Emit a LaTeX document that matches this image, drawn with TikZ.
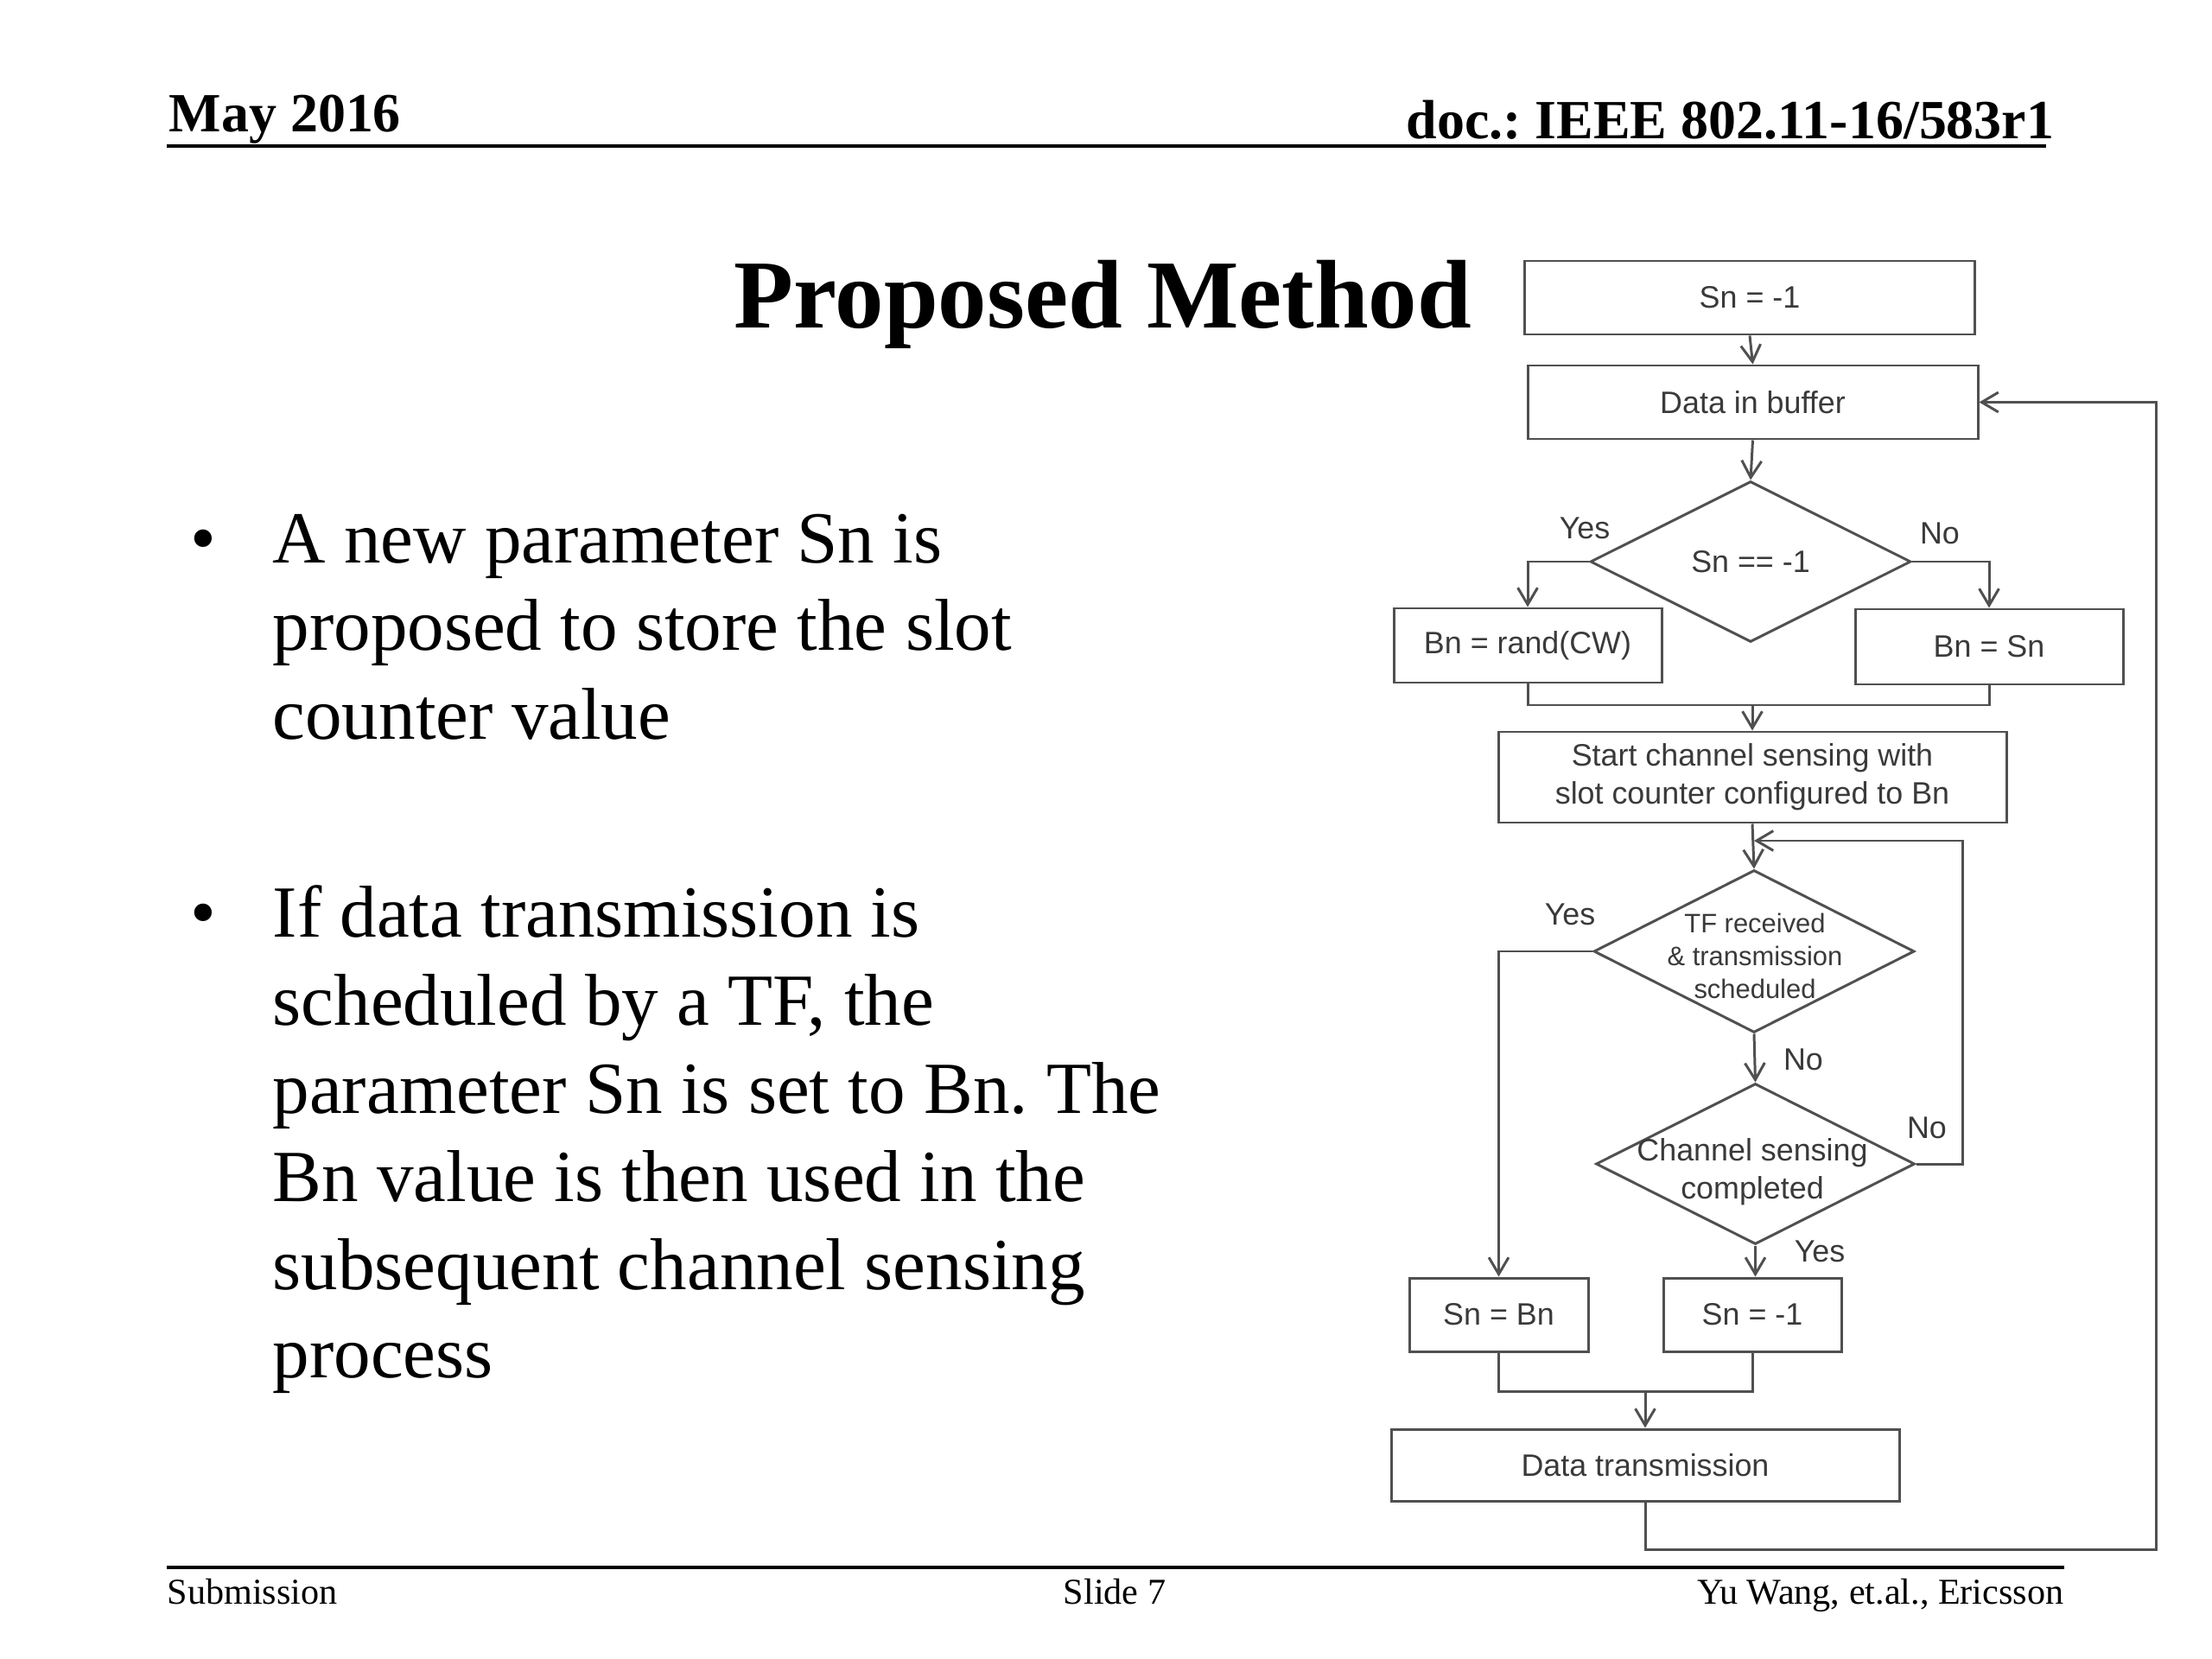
\documentclass[tikz,border=0pt]{standalone}
\usepackage{fontspec}
\setmainfont{Liberation Serif}
\newfontfamily\fcfont{Liberation Sans}
\usetikzlibrary{shapes.geometric,arrows.meta}
\definecolor{fcline}{HTML}{505050}
\definecolor{fctext}{HTML}{3A3A3A}
\frenchspacing
\begin{document}
\begin{tikzpicture}[
  hdr/.style={font=\fontsize{18.2}{22}\selectfont\bfseries, inner sep=0},
  body/.style={font=\fontsize{24.2}{29}\selectfont, inner sep=0, anchor=base west},
  foot/.style={font=\fontsize{12}{14}\selectfont, inner sep=0},
  fbox/.style={draw=fcline, line width=0.85pt, rectangle, inner sep=0, font=\fcfont\fontsize{10.2}{12.5}\selectfont, text=fctext, align=center},
  fdia/.style={draw=fcline, line width=0.85pt, diamond, inner sep=0},
  ftxt/.style={inner sep=0, font=\fcfont\fontsize{10.2}{12.5}\selectfont, text=fctext, align=center},
  conn/.style={draw=fcline, line width=0.85pt},
  arr/.style={conn, -{Straight Barb[length=5.5pt,width=6.5pt]}},
]
\fill[white] (0,0) rectangle (25.6,-19.2);
\useasboundingbox (0,0) rectangle (25.6,-19.2);

% header
\node[hdr, anchor=base west] (date) at (1.95,-1.53) {May 2016};
\node[hdr, anchor=base east] (doc) at (23.78,-1.61) {doc.: IEEE 802.11-16/583r1};
\coordinate (hl) at (1.93,-1.69);
\coordinate (hr) at (23.68,-1.69);
\draw[line width=1pt] (hl) -- (hr);

% title
\node[inner sep=0, anchor=base west, font=\fontsize{32.1}{38}\selectfont\bfseries] (title) at (8.49,-3.80) {Proposed Method};

% bullets
\node[body] (bul1) at (2.20,-6.51) {•};
\node[body] (l1) at (3.15,-6.51) {A new parameter Sn is};
\node[body] (l2) at (3.15,-7.53) {proposed to store the slot};
\node[body] (l3) at (3.15,-8.55) {counter value};
\node[body] (bul2) at (2.20,-10.84) {•};
\node[body] (m1) at (3.15,-10.84) {If data transmission is};
\node[body] (m2) at (3.15,-11.86) {scheduled by a TF, the};
\node[body] (m3) at (3.15,-12.88) {parameter Sn is set to Bn. The};
\node[body] (m4) at (3.15,-13.90) {Bn value is then used in the};
\node[body] (m5) at (3.15,-14.92) {subsequent channel sensing};
\node[body] (m6) at (3.15,-15.94) {process};

% footer
\coordinate (fl) at (1.93,-18.14);
\coordinate (fr) at (23.89,-18.14);
\draw[line width=1pt] (fl) -- (fr);
\node[foot, anchor=base west] (sub) at (1.93,-18.56) {Submission};
\node[foot, anchor=base] (slide) at (12.90,-18.56) {Slide 7};
\node[foot, anchor=base east] (auth) at (23.89,-18.56) {Yu Wang, et.al., Ericsson};

% flowchart
\node[fbox, minimum width=5.21cm, minimum height=0.85cm] (b1) at (20.25,-3.445) {Sn = -1};
\node[fbox, minimum width=5.21cm, minimum height=0.85cm] (b2) at (20.285,-4.655) {Data in buffer};
\node[fdia, minimum width=3.71cm, minimum height=1.86cm] (d1) at (20.26,-6.50) {};
\node[ftxt] (d1t) at (20.26,-6.50) {Sn == -1};
\node[fbox, minimum width=3.10cm, minimum height=0.86cm] (b3) at (17.68,-7.47) {Bn = rand(CW)};
\node[fbox, minimum width=3.10cm, minimum height=0.87cm] (b4) at (23.02,-7.485) {Bn = Sn};
\node[fbox, minimum width=5.88cm, minimum height=1.05cm] (b5) at (20.28,-8.995) {Start channel sensing with\\slot counter configured to Bn};
\node[fdia, minimum width=3.71cm, minimum height=1.88cm] (d2) at (20.30,-11.01) {};
\node[ftxt, font=\fcfont\fontsize{8.8}{10.8}\selectfont] (d2t) at (20.31,-11.06) {TF received\\\& transmission\\scheduled};
\node[fdia, minimum width=3.69cm, minimum height=1.86cm] (d3) at (20.315,-13.47) {};
\node[ftxt] (d3t) at (20.28,-13.56) {Channel sensing\\completed};
\node[fbox, minimum width=2.07cm, minimum height=0.85cm] (b6) at (17.345,-15.215) {Sn = Bn};
\node[fbox, minimum width=2.06cm, minimum height=0.85cm] (b7) at (20.28,-15.215) {Sn = -1};
\node[fbox, minimum width=5.88cm, minimum height=0.83cm] (b8) at (19.04,-16.955) {Data transmission};

% labels
\node[ftxt] (y1) at (18.34,-6.11) {Yes};
\node[ftxt] (n1) at (22.45,-6.17) {No};
\node[ftxt] (y2) at (18.17,-10.58) {Yes};
\node[ftxt] (n2) at (20.87,-12.26) {No};
\node[ftxt] (n3) at (22.30,-13.05) {No};
\node[ftxt] (y3) at (21.06,-14.48) {Yes};

% junction coordinates
\coordinate (j1) at (20.28,-8.16);
\coordinate (j2) at (19.04,-16.10);
\coordinate (lp) at (20.30,-9.73);
\coordinate (lr) at (22.71,-9.73);
\coordinate (bl) at (19.04,-17.93);
\coordinate (br) at (24.95,-17.93);
\coordinate (tr) at (24.95,-4.655);

% connectors
\draw[arr] (b1.south) -- (b2.north);
\draw[arr] (b2.south) -- (d1.north);
\draw[arr] (d1.west) -| (b3.north);
\draw[arr] (d1.east) -| (b4.north);
\draw[conn] (b3.south) |- (j1) -| (b4.south);
\draw[arr] (j1) -- (j1 |- b5.north);
\draw[arr] (b5.south) -- (d2.north);
\draw[arr] (d2.west) -| (b6.north);
\draw[arr] (d2.south) -- (d3.north);
\draw[arr] (d3.south) -- (d3.south |- b7.north);
\draw[arr] (d3.east) -| (lr) -- (lp);
\draw[conn] (b6.south) |- (j2) -| (b7.south);
\draw[arr] (j2) -- (b8.north);
\draw[arr] (b8.south) -- (bl) -- (br) -- (tr) -- (b2.east);
\end{tikzpicture}
\end{document}
